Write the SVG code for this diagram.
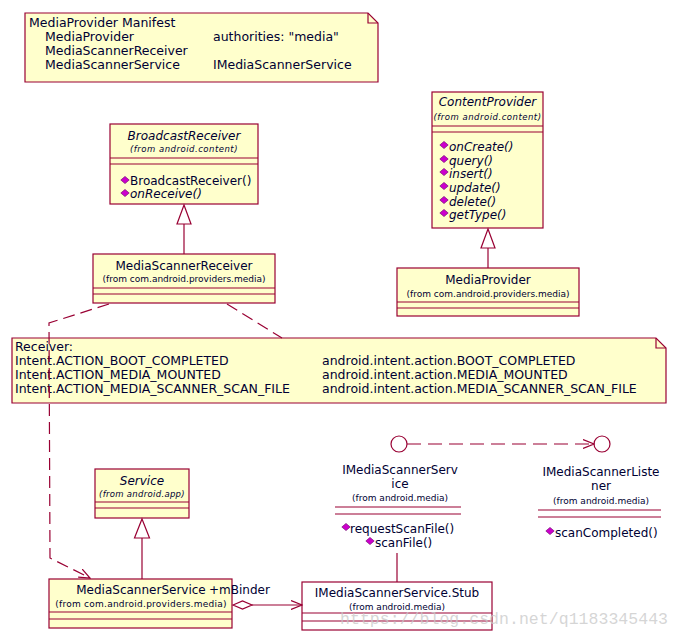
<svg xmlns="http://www.w3.org/2000/svg" xmlns:xlink="http://www.w3.org/1999/xlink" width="680" height="640" viewBox="0 0 680 640">
<style>
text{font-family:"DejaVu Sans","Verdana",sans-serif;fill:#000033;}
.t{font-size:12px;text-anchor:middle;}
.n{font-size:12.5px;}
.op{font-size:12px;}
.i{font-style:italic;}
.f{font-size:9px;text-anchor:middle;}
.fi{font-size:8.5px;font-style:italic;text-anchor:middle;letter-spacing:0.5px;}
.box{fill:#FFFFCC;stroke:#990033;stroke-width:1.2;}
.wbox{fill:#FFFFFF;stroke:#990033;stroke-width:1.2;}
.sep{stroke:#990033;stroke-width:1.2;fill:none;}
.ln{stroke:#990033;stroke-width:1.2;fill:none;}
.dash{stroke:#990033;stroke-width:1.2;fill:none;stroke-dasharray:12,6;}
.dash2{stroke:#990033;stroke-width:1.2;fill:none;stroke-dasharray:14,7;}
.tri{fill:#FFFFFF;stroke:#990033;stroke-width:1.2;}
.wm{font-family:"Liberation Mono",monospace;font-size:16.5px;fill:#c8c8c8;fill-opacity:0.75;}
</style>
<defs>
<g id="opicon"><polygon points="0,-3.6 4.2,0 0,3.6 -4.2,0" fill="#CC00CC" stroke="#660066" stroke-width="0.6"/></g>
<marker id="open" markerWidth="12" markerHeight="10" refX="11" refY="5" orient="auto" markerUnits="userSpaceOnUse">
<path d="M0,0.5 L11,5 L0,9.5" fill="none" stroke="#990033" stroke-width="1.2"/>
</marker>
</defs>

<g id="note-manifest">
<polygon class="box" points="25,13 368,13 378,23 378,82 25,82"/>
<polyline class="sep" points="368,13 368,23 378,23"/>
<text class="n" x="29" y="27">MediaProvider Manifest</text>
<text class="n" x="45" y="41">MediaProvider</text>
<text class="n" x="213" y="41">authorities: "media"</text>
<text class="n" x="45" y="55">MediaScannerReceiver</text>
<text class="n" x="45" y="69">MediaScannerService</text>
<text class="n" x="213" y="69">IMediaScannerService</text>
</g>

<g id="BroadcastReceiver">
<rect class="box" x="110" y="124" width="148" height="80"/>
<line class="sep" x1="110" y1="158" x2="258" y2="158"/>
<line class="sep" x1="110" y1="164" x2="258" y2="164"/>
<text class="t i" x="184" y="140">BroadcastReceiver</text>
<text class="fi" x="184" y="152">(from android.content)</text>
<use xlink:href="#opicon" x="125" y="180"/>
<text class="op" x="130" y="185">BroadcastReceiver()</text>
<use xlink:href="#opicon" x="125" y="193"/>
<text class="op i" x="130" y="198">onReceive()</text>
</g>

<g id="ContentProvider">
<rect class="box" x="432" y="92" width="111" height="136"/>
<line class="sep" x1="432" y1="126" x2="543" y2="126"/>
<line class="sep" x1="432" y1="132" x2="543" y2="132"/>
<text class="t i" x="487.5" y="106">ContentProvider</text>
<text class="fi" x="487.5" y="120">(from android.content)</text>
<use xlink:href="#opicon" x="444" y="145"/>
<text class="op i" x="449" y="151">onCreate()</text>
<use xlink:href="#opicon" x="444" y="159"/>
<text class="op i" x="449" y="165">query()</text>
<use xlink:href="#opicon" x="444" y="172"/>
<text class="op i" x="449" y="178">insert()</text>
<use xlink:href="#opicon" x="444" y="186"/>
<text class="op i" x="449" y="192">update()</text>
<use xlink:href="#opicon" x="444" y="200"/>
<text class="op i" x="449" y="206">delete()</text>
<use xlink:href="#opicon" x="444" y="213"/>
<text class="op i" x="449" y="219">getType()</text>
</g>

<g id="MediaScannerReceiver">
<rect class="box" x="93" y="254" width="182" height="49"/>
<line class="sep" x1="93" y1="288" x2="275" y2="288"/>
<line class="sep" x1="93" y1="294" x2="275" y2="294"/>
<text class="t" x="184" y="270">MediaScannerReceiver</text>
<text class="f" x="184" y="282">(from com.android.providers.media)</text>
</g>

<g id="MediaProvider">
<rect class="box" x="397" y="268" width="182" height="48"/>
<line class="sep" x1="397" y1="302" x2="579" y2="302"/>
<line class="sep" x1="397" y1="308" x2="579" y2="308"/>
<text class="t" x="488" y="284">MediaProvider</text>
<text class="f" x="488" y="297">(from com.android.providers.media)</text>
</g>

<g id="note-receiver">
<polygon class="box" points="12,338 656,338 666,348 666,403 12,403"/>
<polyline class="sep" points="656,338 656,348 666,348"/>
<text class="n" x="15" y="351">Receiver:</text>
<text class="n" x="15" y="365">Intent.ACTION_BOOT_COMPLETED</text>
<text class="n" x="322" y="365">android.intent.action.BOOT_COMPLETED</text>
<text class="n" x="15" y="379">Intent.ACTION_MEDIA_MOUNTED</text>
<text class="n" x="322" y="379">android.intent.action.MEDIA_MOUNTED</text>
<text class="n" x="15" y="393">Intent.ACTION_MEDIA_SCANNER_SCAN_FILE</text>
<text class="n" x="322" y="393">android.intent.action.MEDIA_SCANNER_SCAN_FILE</text>
</g>

<g id="Service">
<rect class="box" x="95" y="469" width="94" height="49"/>
<line class="sep" x1="95" y1="502" x2="189" y2="502"/>
<line class="sep" x1="95" y1="508" x2="189" y2="508"/>
<text class="t i" x="142" y="485">Service</text>
<text class="fi" x="142" y="497" style="letter-spacing:0.3px">(from android.app)</text>
</g>

<g id="MediaScannerService">
<rect class="box" x="49" y="579" width="183" height="49"/>
<line class="sep" x1="49" y1="612" x2="232" y2="612"/>
<line class="sep" x1="49" y1="619" x2="232" y2="619"/>
<text class="t" x="141" y="594">MediaScannerService</text>
<text class="f" x="141" y="607" style="letter-spacing:0.25px">(from com.android.providers.media)</text>
</g>

<g id="IMediaScannerService">
<circle cx="399" cy="444" r="8" fill="#FFFFFF" stroke="#990033" stroke-width="1.2"/>
<text class="t" x="400" y="474">IMediaScannerServ</text>
<text class="t" x="400" y="488">ice</text>
<text class="f" x="400" y="501">(from android.media)</text>
<line class="sep" x1="335" y1="507" x2="461" y2="507"/>
<line class="sep" x1="335" y1="514" x2="461" y2="514"/>
<use xlink:href="#opicon" x="346" y="527"/>
<text class="op" x="350" y="533">requestScanFile()</text>
<use xlink:href="#opicon" x="370" y="541"/>
<text class="op" x="375" y="547">scanFile()</text>
</g>

<g id="IMediaScannerListener">
<circle cx="602" cy="444" r="8" fill="#FFFFFF" stroke="#990033" stroke-width="1.2"/>
<text class="t" x="601" y="476">IMediaScannerListe</text>
<text class="t" x="601" y="490">ner</text>
<text class="f" x="601" y="504">(from android.media)</text>
<line class="sep" x1="538" y1="510" x2="661" y2="510"/>
<line class="sep" x1="538" y1="517" x2="661" y2="517"/>
<use xlink:href="#opicon" x="550" y="531"/>
<text class="op" x="555" y="537">scanCompleted()</text>
</g>

<g id="IMediaScannerService.Stub">
<rect class="wbox" x="302" y="582" width="190" height="48"/>
<line class="sep" x1="302" y1="613" x2="492" y2="613"/>
<line class="sep" x1="302" y1="621" x2="492" y2="621"/>
<text class="t" x="397" y="597">IMediaScannerService.Stub</text>
<text class="f" x="397" y="610">(from android.media)</text>
</g>

<g id="connectors">
<line class="ln" x1="184" y1="224" x2="184" y2="254"/>
<polygon class="tri" points="184,205 191,224 177,224"/>
<line class="ln" x1="488" y1="248" x2="488" y2="268"/>
<polygon class="tri" points="488,229 495,248 481,248"/>
<line class="ln" x1="142" y1="538" x2="142" y2="579"/>
<polygon class="tri" points="142,519 149.5,538 134.5,538"/>
<polyline class="dash" points="109,304 49,323 50,558 90,578" marker-end="url(#open)"/>
<line class="dash" x1="227" y1="304" x2="282" y2="338"/>
<line class="dash2" x1="407" y1="444" x2="594" y2="444" marker-end="url(#open)"/>
<line class="ln" x1="397" y1="553" x2="397" y2="582"/>
<line class="ln" x1="252" y1="605" x2="302" y2="605" marker-end="url(#open)"/>
<polygon class="tri" points="233,605 242.5,601 252,605 242.5,609"/>
<text class="op" x="209" y="594">+mBinder</text>
</g>

<text class="wm" x="340" y="624" textLength="328">https://blog.csdn.net/q1183345443</text>
</svg>
